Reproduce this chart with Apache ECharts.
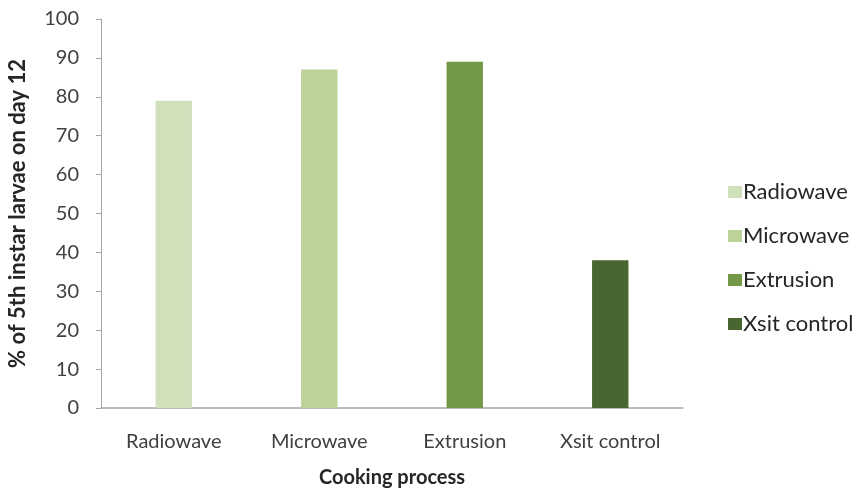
<!DOCTYPE html>
<html>
<head>
<meta charset="utf-8">
<script src="https://cdn.jsdelivr.net/npm/echarts@6/dist/echarts.min.js"></script>
<style>html,body{margin:0;padding:0;background:#fff}#c{width:861px;height:490px}</style>
</head>
<body>
<div id="c"></div>
<script>
const categories = ['Radiowave', 'Microwave', 'Extrusion', 'Xsit control'];
const seriesNames = ['Radiowave', 'Microwave', 'Extrusion', 'Xsit control'];
const values = [79, 87, 89, 38];
const colors = ['#cfe0bb', '#bbd399', '#739846', '#4a6630'];
const yTicks = { min: 0, max: 100, interval: 10 };

const FONT = 'Lato';
const chart = echarts.init(document.getElementById('c'), null, { renderer: 'canvas' });
const series = seriesNames.map((name, i) => ({
  name: name,
  type: 'bar',
  stack: 'all',
  barWidth: '25%',
  itemStyle: { color: colors[i] },
  data: categories.map((c, j) => (j === i ? values[i] : '-'))
}));
chart.setOption({
  animation: false,
  color: colors,
  textStyle: { fontFamily: FONT },
  grid: { left: 101, right: 178, top: 19, bottom: 82, containLabel: false, outerBoundsMode: 'none' },
  legend: {
    orient: 'vertical',
    left: 723,
    top: 175,
    padding: 5,
    itemWidth: 14,
    itemHeight: 12,
    itemGap: 20,
    icon: 'rect',
    textStyle: { fontFamily: FONT, fontSize: 22, color: '#262626', lineHeight: 24, padding: [0, 0, 0, -4] },
    data: seriesNames
  },
  xAxis: {
    type: 'category',
    data: categories,
    name: 'Cooking process',
    nameLocation: 'middle',
    nameGap: 60,
    nameTextStyle: { fontFamily: FONT, fontSize: 20, fontWeight: 'bold', color: '#262626' },
    axisLine: { lineStyle: { color: '#a6a6a6', width: 1.5 } },
    axisTick: { show: false },
    axisLabel: { fontFamily: FONT, fontSize: 20, color: '#404040', margin: 24 }
  },
  yAxis: {
    type: 'value',
    min: yTicks.min,
    max: yTicks.max,
    interval: yTicks.interval,
    name: '% of 5th instar larvae on day 12',
    nameLocation: 'middle',
    nameGap: 72,
    nameTextStyle: { fontFamily: FONT, fontSize: 22, fontWeight: 'bold', color: '#262626' },
    axisLine: { show: true, lineStyle: { color: '#a6a6a6', width: 1 } },
    axisTick: { show: true, length: 5, lineStyle: { color: '#a6a6a6' } },
    splitLine: { show: false },
    axisLabel: { fontFamily: FONT, fontSize: 20, color: '#404040', margin: 22 }
  },
  series: series
});
</script>
</body>
</html>
